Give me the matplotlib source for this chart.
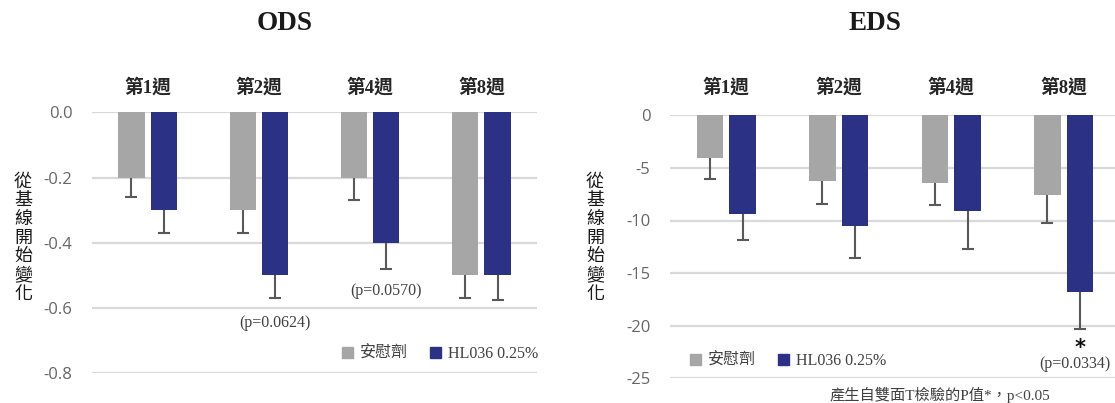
import matplotlib
matplotlib.use("Agg")
import matplotlib.pyplot as plt
import numpy as np
from matplotlib.patches import Patch
from matplotlib.transforms import blended_transform_factory

# ---- data ----
weeks = ["第1週", "第2週", "第4週", "第8週"]
series_names = ["安慰劑", "HL036 0.25%"]

ods_placebo = [-0.20, -0.30, -0.20, -0.50]
ods_placebo_err = [0.06, 0.07, 0.07, 0.07]
ods_hl036 = [-0.30, -0.50, -0.40, -0.50]
ods_hl036_err = [0.07, 0.07, 0.08, 0.075]

eds_placebo = [-4.1, -6.2, -6.4, -7.6]
eds_placebo_err = [2.0, 2.2, 2.1, 2.6]
eds_hl036 = [-9.4, -10.5, -9.1, -16.8]
eds_hl036_err = [2.5, 3.1, 3.6, 3.5]

ods_ticks = [0.0, -0.2, -0.4, -0.6, -0.8]
eds_ticks = [0, -5, -10, -15, -20, -25]

ylabel = "從基線開始變化"
footnote = "產生自雙面T檢驗的P值*，p<0.05"

# ---- style ----
GREY = "#a6a6a6"
BLUE = "#2b3185"
ERR = "#595959"
GRID = "#d9d9d9"
TICK = "#666666"
SERIF_CJK = ["Liberation Serif", "Noto Sans CJK TC"]
SANS_CJK = ["Noto Sans CJK TC", "DejaVu Sans"]

W, H = 1115, 403
fig = plt.figure(figsize=(W / 100, H / 100), dpi=100)


def px_rect(x0, x1, ytop, ybot):
    return [x0 / W, 1 - ybot / H, (x1 - x0) / W, (ybot - ytop) / H]


def panel(rect, placebo, p_err, drug, d_err, ticks, tick_fmt):
    ax = fig.add_axes(rect)
    x = np.arange(len(weeks))
    width = 0.235
    off = 0.145
    ax.bar(x - off, placebo, width, color=GREY, zorder=3)
    ax.bar(x + off, drug, width, color=BLUE, zorder=3)
    for xs, vals, errs in ((x - off, placebo, p_err), (x + off, drug, d_err)):
        vals = np.asarray(vals)
        errs = np.asarray(errs)
        ax.errorbar(xs, vals, yerr=[errs, np.zeros_like(errs)], fmt="none",
                    ecolor=ERR, elinewidth=1.5, capsize=0, zorder=4)
        ax.plot(xs, vals - errs, ls="none", marker="_", ms=8, mew=1.5,
                color=ERR, zorder=4)
    ax.set_xlim(-0.5, len(weeks) - 0.5)
    ax.set_ylim(min(ticks), max(ticks))
    ax.set_yticks(ticks)
    ax.set_yticklabels([tick_fmt(t) for t in ticks], color=TICK,
                       fontsize=12, family="Open Sans")
    ax.tick_params(axis="y", length=0, pad=14)
    ax.set_xticks([])
    ax.grid(axis="y", color=GRID, lw=1.6, zorder=0)
    for s in ax.spines.values():
        s.set_visible(False)
    ax.patch.set_alpha(0)
    trans = blended_transform_factory(ax.transData, fig.transFigure)
    for i, w in enumerate(weeks):
        ax.text(i, 1 - 87 / H, w, transform=trans, ha="center", va="center",
                fontsize=13.5, fontweight="bold", family=SERIF_CJK,
                color="#262626")
    return ax


ax1 = panel(px_rect(92, 537, 112.3, 373.3), ods_placebo, ods_placebo_err,
            ods_hl036, ods_hl036_err, ods_ticks, lambda t: f"{t:.1f}")
ax2 = panel(px_rect(670, 1120, 115.3, 378.3), eds_placebo, eds_placebo_err,
            eds_hl036, eds_hl036_err, eds_ticks, lambda t: f"{t:d}")

# titles
fig.text(285 / W, 1 - 23 / H, "ODS", ha="center", va="center", fontsize=19.5,
         fontweight="bold", family="Liberation Serif", color="#1a1a1a")
fig.text(875 / W, 1 - 23 / H, "EDS", ha="center", va="center", fontsize=19.5,
         fontweight="bold", family="Liberation Serif", color="#1a1a1a")

# vertical stacked axis labels
for xpix in (23, 595):
    fig.text(xpix / W, 1 - 237.5 / H, "\n".join(ylabel), ha="center",
             va="center", fontsize=13, fontweight="medium", family=SANS_CJK,
             linespacing=1.05, color="#1a1a1a")

# p-value annotations
ANN = "#404040"
ax1.text(1 + 0.145, -0.646, "(p=0.0624)", ha="center", va="center",
         fontsize=11.5, family="Liberation Serif", color=ANN)
ax1.text(2 + 0.145, -0.547, "(p=0.0570)", ha="center", va="center",
         fontsize=11.5, family="Liberation Serif", color=ANN)
ax2.text(3 + 0.145, -22.1, "*", ha="center", va="center", fontsize=15,
         fontweight="bold", family="DejaVu Sans", color="#111111")
ax2.text(3 + 0.1, -23.6, "(p=0.0334)", ha="center", va="center",
         fontsize=11.5, family="Liberation Serif", color=ANN)
fig.text(830 / W, 1 - 395 / H, footnote, ha="left", va="center",
         fontsize=11, family=SERIF_CJK, color=ANN)

# legends
handles = [Patch(color=GREY, label=series_names[0]),
           Patch(color=BLUE, label=series_names[1])]
for xpix, ypix in ((342, 354), (690, 361)):
    fig.legend(handles=handles, loc="center left",
               bbox_to_anchor=(xpix / W, 1 - ypix / H), ncol=2, frameon=False,
               borderpad=0, borderaxespad=0, handlelength=0.7,
               handleheight=0.7, handletextpad=0.4, columnspacing=1.4,
               prop={"family": SERIF_CJK, "size": 11.5}, labelcolor=ANN)

fig.savefig("out.png", dpi=100)
